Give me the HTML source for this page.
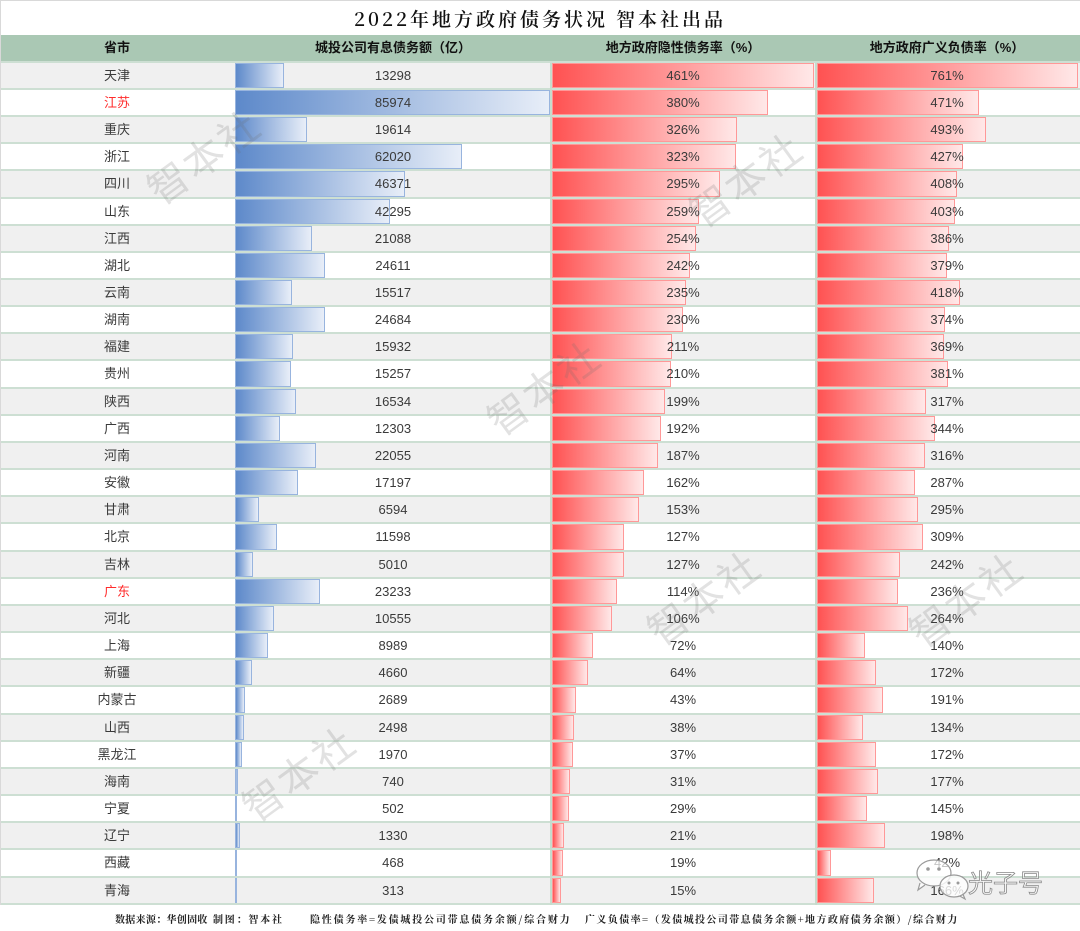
<!DOCTYPE html>
<html><head><meta charset="utf-8">
<style>
html,body{margin:0;padding:0;}
body{width:1080px;height:931px;position:relative;overflow:hidden;background:#fff;font-family:"Liberation Sans","Noto Sans CJK SC",sans-serif;color:#3a3a3a;}
.bd1{position:absolute;left:0;top:0;width:1080px;height:1px;background:#d9d9d9;}
.bd2{position:absolute;left:0;top:0;width:1px;height:905px;background:#d9d9d9;}
.title{position:absolute;left:0;width:1080px;top:7px;line-height:24px;text-align:center;font-family:"Noto Serif CJK SC",serif;font-weight:600;font-size:19px;letter-spacing:3px;color:#111;white-space:nowrap;}
.title span{margin-left:8px;}
.hd{position:absolute;left:0;top:34.5px;width:1080px;height:26.5px;background:#aac8b4;}
.hd span{position:absolute;top:0;line-height:26.5px;width:300px;text-align:center;font-weight:700;font-size:13px;color:#111;white-space:nowrap;}
.tbl{position:absolute;left:0;top:61px;width:1080px;height:843.7px;background:#cddfd3;}
.r{position:absolute;left:0;width:1080px;height:25.2px;background:#fff;font-size:13px;}
.g{background:#f0f0f0;}
.r span{position:absolute;top:0;line-height:25.2px;text-align:center;white-space:nowrap;}
.n{left:67px;width:100px;}
.red{color:#ff2b2b;}
.t1{left:293px;width:200px;}
.t2{left:583px;width:200px;}
.t3{left:847px;width:200px;}
.r i{position:absolute;top:0;height:25.2px;box-sizing:border-box;display:block;}
.b1{left:235px;border:1px solid #98b4de;background:linear-gradient(90deg,#5d89ca,#e8eef8);}
.b2{left:552px;border:1px solid #ff9898;background:linear-gradient(90deg,#ff5252,#ffe8e8);}
.b3{left:817px;border:1px solid #ff9898;background:linear-gradient(90deg,#ff5252,#ffe8e8);}
.vl{position:absolute;top:62.7px;height:842px;width:1.5px;background:#c6dccd;}
.wm{position:absolute;font-family:"Noto Sans CJK SC",sans-serif;font-size:40px;color:rgba(110,110,110,0.2);letter-spacing:3px;white-space:nowrap;transform:translate(-50%,-50%) rotate(-36deg);line-height:44px;}
.ft{position:absolute;top:912px;font-family:"Noto Serif CJK SC",serif;font-weight:700;font-size:10px;line-height:14px;color:#222;white-space:nowrap;letter-spacing:1.8px;}
.gz{position:absolute;left:968px;top:867px;font-family:"Noto Sans CJK SC",sans-serif;font-size:25px;line-height:30px;color:rgba(255,255,255,0.55);-webkit-text-stroke:0.8px #8a8a8a;white-space:nowrap;}
</style></head>
<body>
<div class="bd1"></div>
<div class="title">2022年地方政府债务状况<span>智本社出品</span></div>
<div class="hd">
<span style="left:-33px">省市</span>
<span style="left:243px">城投公司有息债务额（亿）</span>
<span style="left:533px">地方政府隐性债务率（%）</span>
<span style="left:797px">地方政府广义负债率（%）</span>
</div>
<div class="tbl"></div>

<div class="r g" style="top:62.7px"><span class="n">天津</span><i class="b1" style="width:48.6px"></i><span class="t1">13298</span><i class="b2" style="width:262px"></i><span class="t2">461%</span><i class="b3" style="width:261px"></i><span class="t3">761%</span></div>
<div class="r" style="top:89.86px"><span class="n red">江苏</span><i class="b1" style="width:314.5px"></i><span class="t1">85974</span><i class="b2" style="width:216px"></i><span class="t2">380%</span><i class="b3" style="width:161.5px"></i><span class="t3">471%</span></div>
<div class="r g" style="top:117.02px"><span class="n">重庆</span><i class="b1" style="width:71.7px"></i><span class="t1">19614</span><i class="b2" style="width:185.3px"></i><span class="t2">326%</span><i class="b3" style="width:169.1px"></i><span class="t3">493%</span></div>
<div class="r" style="top:144.18px"><span class="n">浙江</span><i class="b1" style="width:226.9px"></i><span class="t1">62020</span><i class="b2" style="width:183.6px"></i><span class="t2">323%</span><i class="b3" style="width:146.4px"></i><span class="t3">427%</span></div>
<div class="r g" style="top:171.34px"><span class="n">四川</span><i class="b1" style="width:169.6px"></i><span class="t1">46371</span><i class="b2" style="width:167.7px"></i><span class="t2">295%</span><i class="b3" style="width:139.9px"></i><span class="t3">408%</span></div>
<div class="r" style="top:198.5px"><span class="n">山东</span><i class="b1" style="width:154.7px"></i><span class="t1">42295</span><i class="b2" style="width:147.2px"></i><span class="t2">259%</span><i class="b3" style="width:138.2px"></i><span class="t3">403%</span></div>
<div class="r g" style="top:225.66px"><span class="n">江西</span><i class="b1" style="width:77.1px"></i><span class="t1">21088</span><i class="b2" style="width:144.4px"></i><span class="t2">254%</span><i class="b3" style="width:132.4px"></i><span class="t3">386%</span></div>
<div class="r" style="top:252.82px"><span class="n">湖北</span><i class="b1" style="width:90px"></i><span class="t1">24611</span><i class="b2" style="width:137.5px"></i><span class="t2">242%</span><i class="b3" style="width:130px"></i><span class="t3">379%</span></div>
<div class="r g" style="top:279.98px"><span class="n">云南</span><i class="b1" style="width:56.8px"></i><span class="t1">15517</span><i class="b2" style="width:133.6px"></i><span class="t2">235%</span><i class="b3" style="width:143.4px"></i><span class="t3">418%</span></div>
<div class="r" style="top:307.14px"><span class="n">湖南</span><i class="b1" style="width:90.3px"></i><span class="t1">24684</span><i class="b2" style="width:130.7px"></i><span class="t2">230%</span><i class="b3" style="width:128.3px"></i><span class="t3">374%</span></div>
<div class="r g" style="top:334.3px"><span class="n">福建</span><i class="b1" style="width:58.3px"></i><span class="t1">15932</span><i class="b2" style="width:119.9px"></i><span class="t2">211%</span><i class="b3" style="width:126.6px"></i><span class="t3">369%</span></div>
<div class="r" style="top:361.46px"><span class="n">贵州</span><i class="b1" style="width:55.8px"></i><span class="t1">15257</span><i class="b2" style="width:119.3px"></i><span class="t2">210%</span><i class="b3" style="width:130.7px"></i><span class="t3">381%</span></div>
<div class="r g" style="top:388.62px"><span class="n">陕西</span><i class="b1" style="width:60.5px"></i><span class="t1">16534</span><i class="b2" style="width:113.1px"></i><span class="t2">199%</span><i class="b3" style="width:108.7px"></i><span class="t3">317%</span></div>
<div class="r" style="top:415.78px"><span class="n">广西</span><i class="b1" style="width:45px"></i><span class="t1">12303</span><i class="b2" style="width:109.1px"></i><span class="t2">192%</span><i class="b3" style="width:118px"></i><span class="t3">344%</span></div>
<div class="r g" style="top:442.94px"><span class="n">河南</span><i class="b1" style="width:80.7px"></i><span class="t1">22055</span><i class="b2" style="width:106.3px"></i><span class="t2">187%</span><i class="b3" style="width:108.4px"></i><span class="t3">316%</span></div>
<div class="r" style="top:470.1px"><span class="n">安徽</span><i class="b1" style="width:62.9px"></i><span class="t1">17197</span><i class="b2" style="width:92.1px"></i><span class="t2">162%</span><i class="b3" style="width:98.4px"></i><span class="t3">287%</span></div>
<div class="r g" style="top:497.26px"><span class="n">甘肃</span><i class="b1" style="width:24.1px"></i><span class="t1">6594</span><i class="b2" style="width:87px"></i><span class="t2">153%</span><i class="b3" style="width:101.2px"></i><span class="t3">295%</span></div>
<div class="r" style="top:524.42px"><span class="n">北京</span><i class="b1" style="width:42.4px"></i><span class="t1">11598</span><i class="b2" style="width:72.2px"></i><span class="t2">127%</span><i class="b3" style="width:106px"></i><span class="t3">309%</span></div>
<div class="r g" style="top:551.58px"><span class="n">吉林</span><i class="b1" style="width:18.3px"></i><span class="t1">5010</span><i class="b2" style="width:72.2px"></i><span class="t2">127%</span><i class="b3" style="width:83px"></i><span class="t3">242%</span></div>
<div class="r" style="top:578.74px"><span class="n red">广东</span><i class="b1" style="width:85px"></i><span class="t1">23233</span><i class="b2" style="width:64.8px"></i><span class="t2">114%</span><i class="b3" style="width:80.9px"></i><span class="t3">236%</span></div>
<div class="r g" style="top:605.9px"><span class="n">河北</span><i class="b1" style="width:38.6px"></i><span class="t1">10555</span><i class="b2" style="width:60.2px"></i><span class="t2">106%</span><i class="b3" style="width:90.5px"></i><span class="t3">264%</span></div>
<div class="r" style="top:633.06px"><span class="n">上海</span><i class="b1" style="width:32.9px"></i><span class="t1">8989</span><i class="b2" style="width:40.9px"></i><span class="t2">72%</span><i class="b3" style="width:48px"></i><span class="t3">140%</span></div>
<div class="r g" style="top:660.22px"><span class="n">新疆</span><i class="b1" style="width:17px"></i><span class="t1">4660</span><i class="b2" style="width:36.4px"></i><span class="t2">64%</span><i class="b3" style="width:59px"></i><span class="t3">172%</span></div>
<div class="r" style="top:687.38px"><span class="n">内蒙古</span><i class="b1" style="width:9.8px"></i><span class="t1">2689</span><i class="b2" style="width:24.4px"></i><span class="t2">43%</span><i class="b3" style="width:65.5px"></i><span class="t3">191%</span></div>
<div class="r g" style="top:714.54px"><span class="n">山西</span><i class="b1" style="width:9.1px"></i><span class="t1">2498</span><i class="b2" style="width:21.6px"></i><span class="t2">38%</span><i class="b3" style="width:46px"></i><span class="t3">134%</span></div>
<div class="r" style="top:741.7px"><span class="n">黑龙江</span><i class="b1" style="width:7.2px"></i><span class="t1">1970</span><i class="b2" style="width:21px"></i><span class="t2">37%</span><i class="b3" style="width:59px"></i><span class="t3">172%</span></div>
<div class="r g" style="top:768.86px"><span class="n">海南</span><i class="b1" style="width:2.7px"></i><span class="t1">740</span><i class="b2" style="width:17.6px"></i><span class="t2">31%</span><i class="b3" style="width:60.7px"></i><span class="t3">177%</span></div>
<div class="r" style="top:796.02px"><span class="n">宁夏</span><i class="b1" style="width:2px"></i><span class="t1">502</span><i class="b2" style="width:16.5px"></i><span class="t2">29%</span><i class="b3" style="width:49.7px"></i><span class="t3">145%</span></div>
<div class="r g" style="top:823.18px"><span class="n">辽宁</span><i class="b1" style="width:4.9px"></i><span class="t1">1330</span><i class="b2" style="width:11.9px"></i><span class="t2">21%</span><i class="b3" style="width:67.9px"></i><span class="t3">198%</span></div>
<div class="r" style="top:850.34px"><span class="n">西藏</span><i class="b1" style="width:2px"></i><span class="t1">468</span><i class="b2" style="width:10.8px"></i><span class="t2">19%</span><i class="b3" style="width:14.4px"></i><span class="t3">42%</span></div>
<div class="r g" style="top:877.5px"><span class="n">青海</span><i class="b1" style="width:2px"></i><span class="t1">313</span><i class="b2" style="width:8.5px"></i><span class="t2">15%</span><i class="b3" style="width:56.9px"></i><span class="t3">166%</span></div>

<div class="vl" style="left:550.2px"></div>
<div class="vl" style="left:815px"></div>
<div class="bd2"></div>

<div class="wm" style="left:203px;top:155px">智本社</div>
<div class="wm" style="left:745px;top:178px">智本社</div>
<div class="wm" style="left:543px;top:386px">智本社</div>
<div class="wm" style="left:703px;top:596px">智本社</div>
<div class="wm" style="left:965px;top:598px">智本社</div>
<div class="wm" style="left:298px;top:772px">智本社</div>

<svg style="position:absolute;left:912px;top:858px" width="60" height="45" viewBox="0 0 60 45">
<path d="M8 25 L6 32 L13 27" fill="rgba(255,255,255,0.7)" stroke="#9a9a9a" stroke-width="1.2"/>
<ellipse cx="22" cy="15" rx="17" ry="13" fill="rgba(255,255,255,0.7)" stroke="#9a9a9a" stroke-width="1.2"/>
<circle cx="16" cy="11" r="1.8" fill="#9a9a9a"/>
<circle cx="27" cy="11" r="1.8" fill="#9a9a9a"/>
<path d="M50 34 L53 41 L46 37" fill="rgba(255,255,255,0.8)" stroke="#9a9a9a" stroke-width="1.2"/>
<ellipse cx="42" cy="28" rx="14" ry="11" fill="rgba(255,255,255,0.8)" stroke="#9a9a9a" stroke-width="1.2"/>
<circle cx="37" cy="25" r="1.5" fill="#9a9a9a"/>
<circle cx="46" cy="25" r="1.5" fill="#9a9a9a"/>
</svg>
<div class="gz">光子号</div>

<div class="ft" style="left:115px;letter-spacing:0.3px">数据来源：华创固收</div>
<div class="ft" style="left:213px">制图：智本社</div>
<div class="ft" style="left:310px">隐性债务率=发债城投公司带息债务余额/综合财力</div>
<div class="ft" style="left:585px;letter-spacing:1.4px">广义负债率=（发债城投公司带息债务余额+地方政府债务余额）/综合财力</div>
</body></html>
